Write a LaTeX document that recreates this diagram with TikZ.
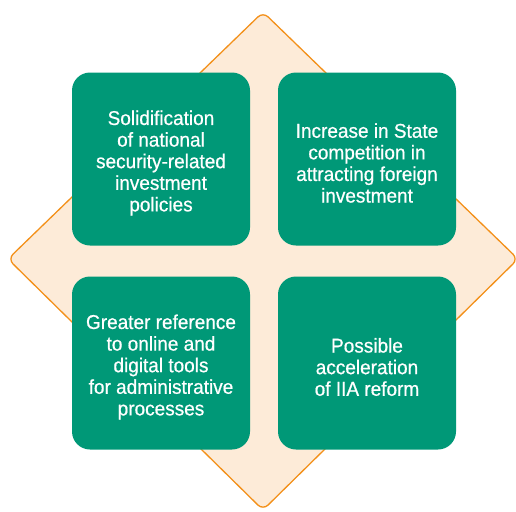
\documentclass[tikz,border=0pt]{standalone}
\usepackage{fontspec}
\setmainfont{Liberation Sans}[FakeStretch=0.95,FakeBold=0.6]
\definecolor{cardgreen}{HTML}{009877}
\definecolor{peach}{HTML}{FDEBD8}
\definecolor{rimorange}{HTML}{F39019}
\tikzset{
	card/.style={fill=cardgreen, rounded corners=18pt, minimum width=178pt, minimum height=173pt},
	cardtext/.style={text=white, align=center, font=\fontsize{20}{21.6}\selectfont},
}
\begin{document}
\begin{tikzpicture}[x=1pt,y=-1pt]
		\useasboundingbox (0,0) rectangle (516,511);
		% background diamond
		\filldraw[fill=peach, draw=rimorange, line width=1.3pt, rounded corners=7pt] (263,12)--(518,259)--(263,510)--(8,259)--cycle;
		
		\node[card] (security) at (161,159) {};
		\node[card] (competition) at (367,159) {};
		\node[card] (digital) at (161,363) {};
		\node[card] (reform) at (367,363) {};
		
		% texts, set a little below the centre
		\node[cardtext] (security-text) at ([yshift=-4pt]security.center) {Solidification\\of national\\security-related\\investment\\policies};
		\node[cardtext] (competition-text) at ([yshift=-4pt]competition.center) {Increase in State\\competition in\\attracting foreign\\investment};
		\node[cardtext] (digital-text) at ([yshift=-4pt]digital.center) {Greater reference\\to online and\\digital tools\\for administrative\\processes};
		\node[cardtext] (reform-text) at ([yshift=-4pt]reform.center) {Possible\\acceleration\\of IIA reform};
\end{tikzpicture}
\end{document}
